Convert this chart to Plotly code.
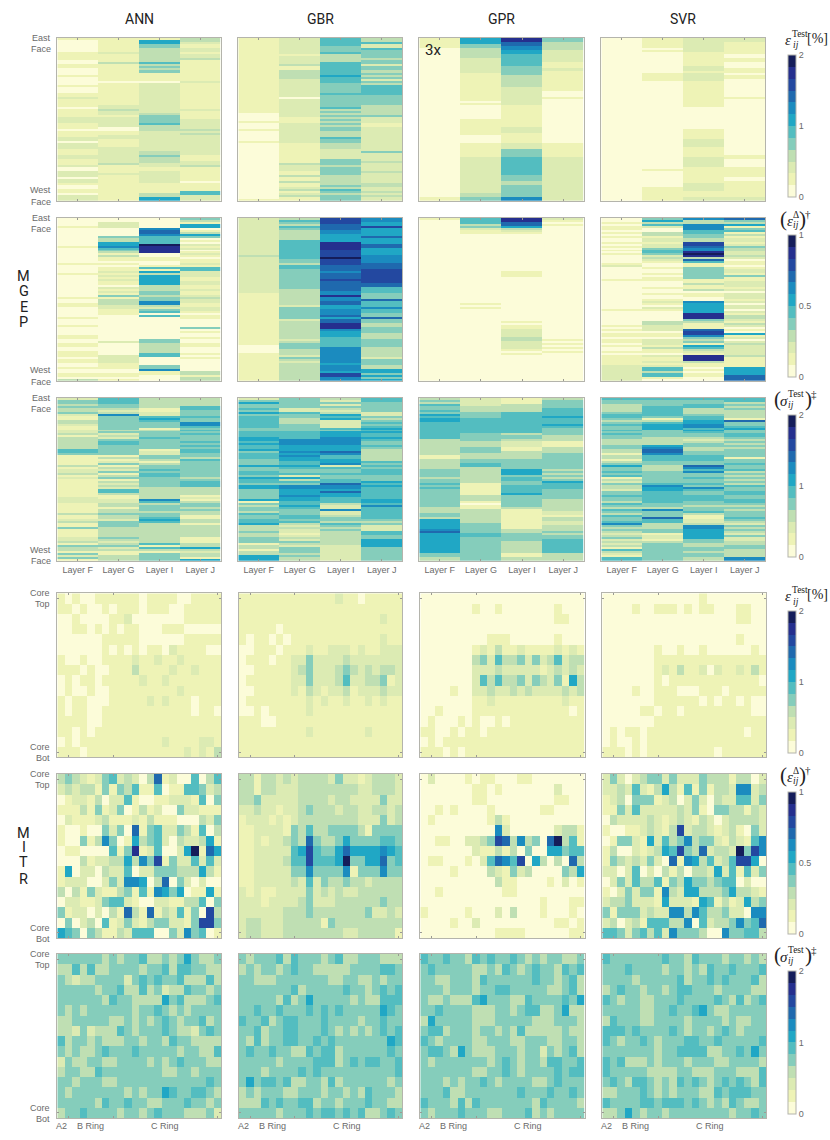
# %%
import plotly.graph_objects as go

# 12 step YlGnBu, levels 0-11 (a = 10, b = 11)
colors = ["#fcfcd9", "#eef3b6", "#dcebb3", "#bfdfb3", "#85cdbb", "#53bdc0",
          "#20a7c5", "#1b8bbf", "#1f69ae", "#2348a0", "#252f8e", "#151d5a"]
models = ["ANN", "GBR", "GPR", "SVR"]
layers = ["Layer F", "Layer G", "Layer I", "Layer J"]
cbar_max = [2, 1, 2, 2, 1, 2]
cbar_ticks = [[0, 1, 2], [0, 0.5, 1], [0, 1, 2], [0, 1, 2], [0, 0.5, 1], [0, 1, 2]]

# MGEP: one run-length string per layer, "level*rows"
mgep_err_ann = [
    "1*1 0*6 1*4 0*2 1*2 0*4 1*1 0*4 1*1 0*3 1*2 2*1 1*4 0*1 1*4 2*3 1*3 0*1 1*3 2*2 0*1 2*3 1*3 2*2 1*3 2*1 0*2 2*3 0*1 2*2 1*1 0*2 1*2 0*1 2*3",
    "1*7 2*1 1*4 3*1 1*2 1*7 0*1 1*11 2*2 3*1 2*2 1*1 2*5 0*2 1*2 2*2 1*4 2*8 3*1 1*4 2*1 1*13",
    "1*1 6*2 4*2 3*7 5*1 3*1 4*1 3*1 4*2 1*1 1*3 0*1 2*15 3*1 4*4 5*1 3*3 2*10 3*2 4*1 3*3 2*2 1*2 2*6 1*5 3*2 6*2",
    "3*2 2*1 1*2 2*2 1*1 2*2 3*1 1*11 2*1 1*13 2*1 1*4 2*5 3*1 2*1 3*1 2*10 1*3 2*2 3*1 1*7 0*1 1*4 5*2 2*3",
]
mgep_err_gbr = [
    "1*38 0*4 1*1 0*3 1*1 0*5 1*1 0*28 1*1",
    "2*8 1*1 2*4 3*1 1*2 3*5 2*9 0*1 2*9 1*3 2*10 1*10 3*1 2*3 1*2 3*1 1*2 3*1 1*2 2*1 3*1 1*1 2*1 3*1 1*2",
    "5*4 4*3 5*1 3*4 5*4 5*3 6*1 5*3 4*5 5*1 4*6 5*1 3*1 4*1 3*1 4*1 3*1 4*1 3*1 4*1 3*1 4*2 3*3 5*1 4*2 3*3 2*5 4*3 3*1 4*4 3*5 4*1 3*1 5*1 4*1 3*1 4*3",
    "3*2 5*1 2*2 5*1 4*4 3*1 4*2 2*1 4*2 3*2 4*1 3*1 4*1 2*1 4*1 3*1 5*5 4*5 3*5 4*1 2*3 1*2 2*12 4*1 2*4 3*1 2*4 3*1 2*5 3*2 2*2 3*1 2*1 3*1 2*2",
]
mgep_err_gpr = [
    "1*5 0*75 1*2",
    "6*3 4*2 3*5 2*8 1*14 0*1 1*1 0*7 1*8 0*4 1*7 2*18 3*2 4*2",
    "a*2 8*2 7*2 6*2 5*6 4*5 3*6 2*9 1*11 2*3 1*5 2*3 4*4 5*9 4*3 3*2 4*6 7*2",
    "4*2 3*4 2*6 1*3 2*2 1*10 0*3 1*1 0*22 1*7 2*22",
]
mgep_err_svr = [
    "0*82",
    "1*5 0*1 1*1 0*11 1*4 0*44 1*1 0*8 1*7",
    "2*7 1*7 2*3 1*1 2*4 1*13 0*11 1*5 2*4 1*5 2*5 1*8 2*4 1*3 2*2",
    "2*2 1*6 0*2 1*2 0*3 1*3 0*1 1*2 0*9 1*1 0*28 1*2 0*4 1*5 0*2 1*8 2*2",
]
mgep_delta_ann = [
    "0*4 1*1 0*9 1*1 0*8 1*1 0*4 1*1 0*11 1*1 0*2 1*2 0*5 1*1 0*3 1*1 0*4 1*2 0*2 1*2 0*2 1*3 0*1 1*2 0*2 1*1 0*2 1*2 0*1 3*1",
    "0*2 2*3 0*4 4*1 3*2 6*2 7*1 5*1 4*1 3*1 1*1 3*1 1*2 0*1 1*1 0*1 1*2 2*1 1*1 2*1 1*1 2*1 1*2 0*1 2*1 1*1 2*1 1*1 4*1 1*1 3*3 2*2 1*3 0*13 2*1 0*6 2*4 1*3 0*2 1*2 0*1 1*1",
    "0*5 7*1 8*2 7*1 5*4 b*1 a*4 0*2 1*2 0*2 1*1 5*1 1*1 6*1 3*1 6*1 6*4 3*3 4*2 3*1 4*2 7*2 3*1 2*1 4*1 5*1 0*1 5*1 0*11 4*2 3*5 5*2 0*4 4*2 7*1 1*2 0*3",
    "4*1 3*1 1*1 6*2 0*1 1*1 3*1 6*1 4*1 0*1 1*1 0*1 2*1 1*1 2*1 0*1 1*1 2*1 1*1 0*1 1*2 2*1 1*1 5*2 2*3 1*2 2*2 1*2 2*1 1*2 2*1 3*1 2*2 1*2 2*2 1*1 0*1 1*2 0*4 4*1 0*1 1*1 0*2 1*1 0*2 1*2 0*3 1*1 0*1 1*1 0*6 3*2 1*1 3*2",
]
mgep_delta_gbr = [
    "2*19 3*1 2*1 2*17 1*26 0*4 1*14",
    "3*1 5*1 4*1 3*1 5*1 4*1 3*5 5*3 5*7 4*2 3*1 5*2 4*1 4*9 3*8 2*1 4*6 2*1 3*6 3*3 2*1 3*1 4*3 3*3 2*1 4*1 3*1 2*1 3*9",
    "9*3 8*3 7*2 6*4 a*4 9*4 b*1 9*3 8*3 7*1 8*3 9*1 8*5 7*2 a*1 7*2 8*2 6*2 7*3 8*1 6*1 8*2 a*3 7*1 6*3 5*5 7*8 6*1 7*3 6*1 9*2 7*2",
    "7*2 6*2 9*1 6*4 8*1 6*3 8*2 6*4 7*4 8*3 9*7 8*2 5*3 4*3 8*1 5*3 7*1 5*2 4*2 8*1 4*2 3*2 4*3 3*3 4*4 3*5 2*1 4*3 3*2 6*2 4*1 6*1 4*1 6*1",
]
mgep_delta_gpr = [
    "1*1 0*81",
    "5*3 3*1 4*1 2*1 1*2 0*35 1*1 0*1 1*1 0*36",
    "a*2 8*2 6*1 3*1 2*1 1*1 0*19 1*3 0*22 1*1 0*1 1*2 2*4 3*2 2*4 1*1 0*1 1*1 0*13",
    "2*1 1*1 0*1 1*1 0*57 1*1 0*1 1*1 0*1 1*1 0*1 1*1 0*14",
]
mgep_delta_svr = [
    "0*2 1*1 0*1 1*2 0*1 1*1 0*1 1*1 0*2 1*1 0*1 1*1 0*1 1*1 0*1 1*1 0*4 1*1 2*1 0*6 1*1 0*14 1*1 0*7 1*1 0*1 1*1 0*1 1*2 0*1 1*2 0*1 1*1 0*2 1*1 0*1 1*3 1*2 2*8",
    "4*1 6*1 3*1 5*1 2*1 0*2 3*2 1*1 2*2 1*1 2*2 4*1 5*2 4*1 2*1 3*1 2*1 1*1 0*2 1*1 0*2 1*1 0*1 1*2 0*3 1*1 0*2 1*1 0*2 1*1 2*1 1*1 0*1 2*1 1*1 0*5 3*2 2*3 0*1 1*2 0*1 2*3 1*1 3*1 1*2 0*1 2*1 1*2 2*1 1*1 2*1 5*2 3*1 5*2 1*1 0*1",
    "7*1 3*2 7*3 5*2 4*2 3*2 9*2 8*1 7*2 a*1 b*1 a*1 3*1 8*1 5*1 1*2 4*6 1*2 3*1 1*2 3*1 0*1 1*2 0*2 7*1 6*5 a*3 4*1 3*1 1*3 8*1 9*2 7*1 4*1 3*1 4*1 1*1 6*1 5*1 3*1 2*1 1*1 a*3 3*1 1*2 0*1 1*1 0*1 1*2 0*2",
    "8*1 4*1 3*1 6*1 1*1 4*1 5*1 1*1 3*1 1*1 2*2 1*1 2*1 4*1 3*2 2*2 3*1 2*1 0*1 1*2 0*1 1*1 2*2 1*1 4*1 1*2 2*3 1*1 2*1 0*1 2*3 1*1 2*1 0*1 2*2 0*1 2*1 1*1 3*2 2*1 1*1 3*1 2*1 0*1 1*1 0*1 6*1 1*1 2*1 0*1 2*1 3*1 2*5 3*1 1*5 6*4 8*3 0*1",
]
mgep_std_ann = [
    "2*1 4*2 3*1 4*1 3*2 4*1 2*1 1*2 3*2 2*1 1*2 2*2 3*1 1*1 3*2 3*4 5*2 4*1 1*5 3*1 1*1 2*2 3*1 1*1 2*1 1*6 1*3 2*3 1*5 3*1 1*2 2*1 3*1 1*2 4*1 1*4 2*2 3*1 1*1 4*1 3*2 1*1 4*1 2*1 4*1 1*1",
    "5*3 4*2 3*1 2*1 3*1 7*1 4*7 3*1 4*1 2*1 3*1 2*1 4*1 5*2 4*5 1*1 3*1 1*1 2*1 4*1 1*1 3*1 2*1 4*1 1*1 3*1 4*1 1*1 3*1 2*1 3*1 2*1 5*2 3*1 1*2 2*2 3*2 1*1 3*2 4*1 3*2 2*1 4*3 3*5 4*1 3*1 2*1 3*1 4*1 2*1 3*1 1*2 3*3",
    "3*5 1*2 2*2 5*1 6*1 5*1 4*3 1*1 3*1 4*3 5*1 4*5 1*1 2*2 4*2 3*1 1*1 3*1 4*2 5*1 4*1 5*2 4*1 4*4 3*6 7*1 5*1 3*1 4*3 3*1 4*2 5*1 6*1 5*1 3*10 5*1 1*1 5*1 3*1 1*1 4*4",
    "3*4 5*2 4*3 5*1 4*2 7*2 5*1 4*1 5*1 4*1 5*1 4*3 5*1 4*1 5*1 4*1 5*2 4*2 3*1 5*1 4*8 3*1 4*1 5*3 3*4 1*1 2*1 1*1 3*1 4*2 3*1 4*1 3*2 1*2 3*2 1*1 3*6 1*3 3*2 6*1 3*1 2*1 3*2 1*1 6*2",
]
mgep_std_gbr = [
    "2*1 4*1 6*1 4*2 5*1 4*1 6*1 4*1 5*6 4*2 5*3 6*2 5*1 6*1 5*2 6*1 4*1 5*3 4*3 6*1 4*2 5*2 4*1 6*1 5*2 4*1 6*2 4*5 6*1 1*1 4*1 3*1 4*2 3*1 5*1 4*2 5*2 6*1 3*3 4*1 3*2 4*3 1*1 3*2 1*1 3*2 6*3",
    "4*5 2*2 5*1 4*2 3*3 4*4 5*4 7*3 6*3 7*1 6*1 7*1 6*2 5*2 6*1 5*1 4*2 5*1 2*1 6*1 3*1 5*1 4*1 7*2 6*3 7*1 6*2 5*2 6*1 5*1 4*3 5*2 4*1 5*1 3*1 2*1 3*1 2*2 1*1 2*1 3*1 2*1 4*1 3*1 2*1 4*3 3*1 4*1 3*2",
    "3*1 2*1 4*1 2*1 4*1 3*1 2*1 3*1 6*1 5*1 6*1 2*4 5*1 4*1 6*3 7*4 6*3 8*1 7*1 5*2 6*2 7*1 2*1 5*1 4*2 5*1 4*2 5*2 8*1 7*2 6*1 8*1 6*2 5*3 3*1 2*2 7*1 2*2 3*1 4*2 3*1 5*1 4*1 3*1 4*1 3*7 2*8",
    "5*2 4*5 2*2 4*1 3*1 4*1 5*1 4*1 5*1 6*1 5*1 6*1 5*2 6*1 5*1 4*2 5*1 4*1 3*6 5*1 4*1 5*1 4*1 5*3 4*3 6*1 5*1 6*1 5*2 5*4 6*2 5*1 7*1 5*1 5*5 4*1 3*1 4*1 2*3 5*2 4*2 6*4 4*7",
]
mgep_std_gpr = [
    "3*1 4*1 3*1 5*1 4*2 5*1 4*1 6*1 5*1 6*2 5*9 3*8 1*2 3*5 4*4 3*1 4*2 5*1 4*1 5*1 4*1 4*8 3*3 4*2 3*1 6*5 7*1 8*1 6*10 4*2 3*2",
    "2*4 3*3 4*3 5*8 4*4 3*3 4*3 3*3 4*2 5*2 3*8 1*6 3*3 1*1 0*1 1*2 3*7 4*5 5*2 4*12",
    "1*3 3*4 5*11 3*1 4*2 3*1 2*3 1*2 3*4 4*5 6*3 4*1 5*2 4*2 5*4 6*1 4*6 3*1 1*10 3*2 4*4 3*6 1*2 3*2",
    "3*1 4*1 4*3 5*4 6*1 5*3 6*1 5*1 4*4 3*3 1*3 3*3 4*3 4*5 3*1 4*1 3*1 4*1 3*1 4*1 6*1 5*3 4*5 3*6 2*2 1*1 3*2 2*2 3*3 4*1 3*1 4*2 5*7 3*4",
]
mgep_std_svr = [
    "5*1 4*2 3*4 4*1 5*2 4*1 3*1 4*1 5*1 4*2 5*1 4*1 5*1 4*2 3*3 4*2 3*2 1*1 3*2 1*1 3*1 4*1 6*1 4*2 5*1 4*1 5*1 1*1 3*1 2*1 4*1 3*2 2*1 4*2 5*1 4*2 3*1 5*1 4*1 3*1 5*1 4*1 3*1 5*1 4*2 5*1 7*1 4*1 3*1 4*1 3*1 2*1 3*1 4*1 2*1 3*1 2*1 3*1 1*1 5*1 3*1 2*1 1*1 5*2",
    "5*1 4*3 5*5 4*1 1*1 3*1 5*1 6*3 4*4 3*4 6*1 7*1 8*2 7*1 5*3 4*2 3*3 4*2 4*4 5*1 7*1 6*2 5*1 5*5 4*2 3*1 7*1 4*3 8*1 5*2 3*3 4*2 1*1 2*2 1*1 3*1 4*3 4*6",
    "5*1 4*2 5*2 3*3 4*1 5*2 6*2 7*2 5*1 6*1 5*1 4*2 3*1 2*1 3*1 4*2 3*2 4*2 5*3 4*2 8*1 7*1 5*1 7*1 4*2 5*1 4*2 5*1 4*1 7*1 5*1 4*2 5*3 4*2 3*1 4*2 5*1 3*1 1*2 2*2 3*1 7*2 6*5 4*2 3*2 4*2 3*1 4*2 3*2",
    "5*2 3*1 4*1 3*1 4*1 3*1 3*3 1*1 8*1 4*2 5*1 6*1 4*2 5*2 4*1 3*1 4*1 3*1 4*1 3*1 4*4 1*1 4*2 5*1 4*2 5*1 3*1 4*1 3*1 4*1 3*1 4*1 3*1 5*1 4*2 5*2 4*2 5*2 4*1 3*1 4*1 3*1 4*3 5*1 4*1 3*1 2*1 4*1 3*1 4*1 3*1 2*1 4*1 2*2 3*2 4*2 3*4 7*2",
]

# MITR: 16 axial rows x 22 assemblies, one string per row
mitr_err_ann = [
    "1 0 1 0 0 1 1 1 1 1 1 0 1 1 1 1 0 0 1 1 1 1",
    "1 1 0 1 0 0 1 0 1 1 1 0 1 1 1 0 0 1 1 1 1 1",
    "0 0 1 0 0 0 0 1 1 2 0 0 0 0 0 0 0 1 1 1 1 1",
    "0 0 1 1 0 1 0 1 0 1 1 0 0 0 1 1 1 0 0 0 0 0",
    "0 0 0 0 0 0 1 1 1 1 1 0 0 0 0 0 0 1 1 1 1 1",
    "0 0 0 0 0 0 1 0 1 0 1 0 1 1 0 2 1 1 1 1 0 0",
    "1 0 0 1 0 0 1 1 1 1 2 1 1 2 1 1 2 1 1 1 1 1",
    "1 1 1 0 1 0 0 1 1 1 3 1 1 1 1 2 1 1 2 1 1 1",
    "0 1 0 1 1 0 1 1 1 1 1 2 1 1 2 1 1 1 1 1 1 1",
    "0 1 0 0 1 0 0 1 1 1 1 1 1 1 1 1 2 1 1 1 1 1",
    "1 0 1 1 0 0 0 1 1 1 1 1 2 1 2 1 1 1 0 1 1 1",
    "1 0 1 1 0 0 1 1 1 1 1 1 1 1 1 1 1 1 0 1 1 0",
    "1 1 1 1 0 0 1 1 1 1 1 1 1 1 1 1 1 1 1 1 1 1",
    "1 1 0 1 0 1 1 1 1 1 1 1 1 1 1 1 1 1 1 1 1 1",
    "0 1 0 1 1 1 1 1 1 1 1 1 1 1 2 1 1 1 1 2 2 1",
    "1 1 1 0 1 1 1 1 1 1 1 1 1 1 1 1 1 2 1 2 1 3",
]
mitr_err_gbr = [
    "1 1 1 1 1 1 1 1 1 1 1 1 1 2 1 1 0 1 1 1 1 1",
    "1 1 1 1 1 1 1 1 1 1 1 1 1 1 1 1 1 1 1 1 1 1",
    "1 1 1 1 1 1 1 1 1 1 1 1 1 1 1 1 1 1 1 2 1 1",
    "1 1 1 1 1 0 1 1 1 1 1 1 1 1 1 1 1 1 1 1 1 1",
    "1 0 1 1 0 1 0 1 1 1 1 1 1 1 1 1 1 1 1 2 1 1",
    "0 0 1 1 1 0 1 1 1 2 1 1 2 2 2 1 2 1 1 2 2 2",
    "0 1 1 1 0 1 1 2 2 4 2 2 2 2 3 2 2 2 2 2 2 2",
    "0 0 1 1 1 1 1 2 3 4 2 2 2 3 4 3 2 3 2 3 3 2",
    "0 1 1 1 1 1 1 2 2 4 2 2 2 3 5 2 2 3 3 4 1 2",
    "0 0 1 1 1 1 1 2 1 3 2 1 2 2 3 1 2 2 2 3 2 2",
    "0 1 1 1 1 1 1 1 1 2 1 2 1 1 2 1 1 2 1 2 1 1",
    "0 0 1 0 1 1 1 1 1 2 1 1 1 1 1 1 1 1 1 1 1 1",
    "1 1 1 0 0 1 1 1 1 1 1 1 1 1 1 1 1 1 1 1 1 1",
    "1 1 1 1 1 1 1 1 1 2 1 1 1 1 1 1 1 2 1 1 1 1",
    "1 1 1 1 1 1 1 1 1 1 1 1 1 1 1 1 1 1 1 1 1 1",
    "1 1 1 1 1 1 1 1 1 1 1 1 1 1 1 1 1 1 1 1 1 1",
]
mitr_err_gpr = [
    "0 0 0 0 0 0 0 0 0 0 0 0 0 0 0 0 0 0 0 0 0 0",
    "0 0 0 0 0 0 0 1 0 0 1 0 0 0 0 0 0 0 1 0 0 0",
    "0 0 0 0 0 0 0 0 0 0 0 0 0 0 0 0 0 0 1 1 0 0",
    "0 0 0 0 0 0 0 0 0 0 0 0 0 0 0 0 0 0 0 0 0 0",
    "0 0 0 0 0 0 0 0 0 1 1 1 0 0 0 0 0 0 1 0 0 0",
    "0 0 0 0 0 0 0 1 2 1 3 1 1 2 1 1 1 1 2 1 2 1",
    "0 0 0 0 0 0 0 3 4 2 5 3 3 4 2 4 2 3 5 2 3 3",
    "0 0 0 0 0 0 0 2 2 2 3 2 2 2 2 2 1 2 3 2 3 2",
    "0 0 0 0 0 0 0 2 5 3 5 3 3 4 2 4 3 2 4 1 6 3",
    "0 0 0 0 1 0 0 2 2 3 2 2 3 2 3 2 2 2 2 3 2 3",
    "0 0 0 0 0 0 0 1 1 2 1 1 1 1 1 1 1 1 1 2 1 1",
    "0 0 1 0 0 0 0 1 1 1 1 1 1 1 1 1 1 1 1 1 0 1",
    "0 1 0 0 0 1 0 1 0 0 1 0 1 1 1 1 1 1 1 1 1 1",
    "1 1 0 0 1 0 1 1 0 1 1 1 1 1 1 1 1 1 1 1 1 1",
    "0 1 0 1 1 1 1 1 1 1 1 1 1 1 1 1 1 1 1 1 1 1",
    "1 1 1 0 1 0 1 1 1 1 1 1 1 1 1 1 1 1 1 1 1 1",
]
mitr_err_svr = [
    "0 0 0 0 0 0 0 0 0 0 0 0 0 1 0 0 0 0 0 0 0 0",
    "0 0 0 0 1 0 0 1 1 1 0 1 0 1 1 0 0 0 1 1 0 0",
    "0 0 0 0 0 0 0 0 0 0 0 0 0 0 0 0 0 0 1 1 0 0",
    "0 0 0 0 0 0 0 0 0 0 0 0 0 0 0 0 0 0 0 0 0 0",
    "0 0 0 0 0 0 0 0 0 0 0 0 0 0 0 0 0 0 1 0 0 0",
    "0 0 0 0 0 0 0 1 0 0 1 0 0 1 0 0 0 0 0 0 1 0",
    "0 0 0 0 0 0 0 1 1 1 1 1 1 1 1 1 1 1 1 1 1 1",
    "0 0 0 0 0 0 0 1 2 1 3 1 1 2 0 2 1 1 2 1 3 1",
    "0 0 0 0 0 0 0 1 0 1 1 1 1 1 1 1 1 1 1 1 1 0",
    "0 0 0 0 1 0 0 1 1 1 0 0 0 1 1 1 0 1 1 1 1 1",
    "0 0 0 0 0 0 0 1 1 1 1 1 1 0 1 0 1 1 0 1 0 0",
    "0 0 0 0 0 1 1 0 1 1 0 1 1 1 1 1 1 1 1 1 0 0",
    "0 0 0 0 0 0 0 1 1 1 1 1 1 1 1 1 1 1 1 1 1 1",
    "0 1 0 1 1 0 1 1 1 1 1 1 1 1 1 1 1 1 1 0 1 1",
    "0 1 0 0 1 0 1 1 1 1 1 1 1 1 1 1 1 1 1 1 1 1",
    "1 1 1 0 1 0 1 1 1 1 1 1 1 1 1 0 1 1 1 1 1 1",
]
mitr_delta_ann = [
    "3 4 3 2 1 2 4 5 2 3 2 0 3 8 1 2 0 0 5 0 3 5",
    "2 3 2 3 3 1 4 1 4 3 5 1 1 5 0 1 1 5 5 4 2 3",
    "0 1 2 2 1 3 0 2 2 5 1 0 0 1 1 2 2 2 1 5 0 4",
    "1 1 1 3 1 4 1 2 4 0 1 3 1 2 0 0 4 2 2 1 1 1",
    "0 2 1 1 1 2 3 1 1 1 2 1 3 1 1 1 0 0 0 3 2 4",
    "1 0 0 1 0 0 4 2 4 0 8 1 4 5 2 2 4 3 1 5 0 3",
    "1 0 0 4 1 3 7 4 0 1 6 3 4 5 2 0 3 2 2 3 6 1",
    "0 1 1 0 0 0 0 5 1 4 a 1 2 5 0 0 2 6 b 1 8 6",
    "0 0 0 3 1 2 2 3 3 6 3 7 4 9 1 4 2 2 5 2 5 2",
    "1 6 0 2 2 0 3 2 2 5 0 2 2 4 4 4 3 3 3 6 3 1",
    "1 2 2 2 0 0 2 4 2 7 7 6 0 3 8 0 4 2 0 2 0 0",
    "3 0 3 1 4 2 1 1 3 4 1 5 1 7 6 4 6 0 1 1 6 1",
    "0 2 2 1 1 2 4 5 5 2 1 0 0 2 2 1 1 3 3 5 0 4",
    "4 1 2 2 0 2 0 3 1 8 3 1 8 1 3 2 5 1 4 0 9 3",
    "0 4 0 2 3 0 5 1 2 4 2 1 3 4 4 2 2 1 4 9 9 4",
    "6 5 4 0 4 3 1 1 3 2 5 5 5 0 0 4 2 7 4 5 0 1",
]
mitr_delta_gbr = [
    "3 3 1 3 3 2 3 2 3 3 3 3 2 4 2 2 1 2 3 3 3 2",
    "3 3 1 3 3 2 2 2 3 3 3 3 3 3 3 3 2 2 3 3 3 2",
    "3 3 4 2 2 2 2 2 3 3 3 3 2 3 3 2 2 2 2 4 2 2",
    "2 2 3 2 2 1 2 2 3 4 3 3 3 2 3 3 2 2 3 3 2 3",
    "1 2 2 2 1 2 1 2 3 3 3 3 3 3 3 3 2 2 2 4 2 3",
    "1 1 2 2 2 2 1 4 3 5 3 3 4 4 4 4 3 1 4 4 4 4",
    "1 1 2 1 2 2 3 4 3 8 4 3 3 4 6 4 4 4 4 5 5 4",
    "1 1 2 2 2 2 2 5 6 9 5 4 4 6 8 6 6 6 6 7 6 5",
    "1 1 2 2 2 2 3 5 5 9 5 5 5 6 b 4 4 6 6 8 4 5",
    "1 1 2 2 2 2 2 4 4 7 4 4 4 4 7 1 4 4 4 7 4 4",
    "1 1 2 2 2 2 2 3 2 5 2 4 3 3 4 3 3 2 3 3 3 3",
    "2 1 2 1 1 2 2 2 2 4 2 3 2 3 2 2 3 3 3 3 3 3",
    "2 2 2 1 2 2 2 2 3 4 2 2 2 3 3 3 3 3 3 4 3 3",
    "2 2 2 2 2 2 3 3 3 4 3 3 3 3 3 3 3 4 2 2 3 2",
    "2 3 3 2 2 2 3 3 3 3 3 1 4 3 3 3 3 3 3 3 3 3",
    "2 3 3 2 2 2 3 3 3 3 3 3 3 3 2 2 3 3 3 3 3 1",
]
mitr_delta_gpr = [
    "0 2 0 0 0 0 1 0 1 1 0 0 0 1 1 0 0 0 0 0 0 0",
    "0 0 0 0 0 0 0 1 1 0 1 0 0 0 0 0 0 0 2 0 0 0",
    "0 0 0 0 0 0 0 1 1 0 0 0 0 0 0 0 0 0 1 1 0 0",
    "0 0 1 0 1 0 0 0 0 1 0 0 0 0 0 0 1 1 0 0 0 0",
    "0 1 0 0 0 0 0 0 0 1 3 1 0 0 0 0 0 0 0 0 0 0",
    "0 0 0 0 0 0 0 0 0 0 7 2 0 0 0 0 0 0 2 3 3 1",
    "0 0 1 1 0 0 2 2 3 4 9 8 3 7 3 4 0 8 b 3 5 1",
    "0 0 0 0 0 0 0 2 1 1 3 1 3 0 4 0 0 6 6 4 5 5",
    "0 1 1 0 0 0 1 0 2 5 8 7 5 9 0 6 3 0 3 0 8 3",
    "0 0 0 0 1 0 0 0 0 3 2 1 4 2 3 0 0 0 0 4 3 6",
    "0 0 0 0 0 0 0 0 0 0 3 1 1 0 0 0 0 1 0 2 0 1",
    "0 0 1 0 0 0 0 0 0 0 0 1 1 0 0 0 0 0 0 0 0 0",
    "0 0 0 0 0 0 0 0 0 0 0 0 0 0 0 0 1 0 0 0 1 1",
    "1 0 0 0 0 0 1 0 0 0 2 0 3 0 0 0 1 0 0 0 1 0",
    "0 0 0 0 1 0 0 2 0 0 0 0 0 0 0 0 0 0 1 1 0 1",
    "0 0 0 0 0 0 0 0 0 0 1 1 1 1 0 0 0 0 0 0 1 1",
]
mitr_delta_svr = [
    "2 4 2 0 2 3 4 4 2 4 2 2 2 4 3 3 3 1 3 3 0 2",
    "2 2 3 2 5 2 1 3 6 3 1 5 1 4 1 3 3 2 7 7 2 3",
    "1 2 3 0 4 4 4 1 2 3 0 2 4 2 0 3 2 2 5 5 2 4",
    "1 1 4 2 5 2 2 2 2 2 3 2 4 1 0 4 4 3 3 1 3 2",
    "0 3 2 2 2 2 3 2 1 2 3 2 1 3 2 0 2 3 3 3 3 2",
    "1 0 0 1 1 2 3 2 1 3 9 2 3 3 2 1 2 3 1 0 4 2",
    "0 1 4 4 2 1 6 2 5 3 4 7 3 4 4 2 1 3 2 1 5 7",
    "1 3 0 0 2 1 2 3 6 5 9 4 3 8 2 3 3 2 b 4 9 7",
    "1 4 3 2 3 2 4 2 0 8 1 7 6 3 5 2 3 5 9 9 6 0",
    "2 2 0 2 5 0 2 0 3 1 3 0 3 3 2 6 2 5 1 5 2 4",
    "0 2 4 2 5 3 3 5 1 4 3 6 4 4 3 4 5 5 0 2 0 0",
    "1 0 2 4 2 4 4 1 7 3 2 6 6 3 3 3 4 6 3 3 2 1",
    "2 3 3 4 2 2 2 1 6 2 2 2 1 6 5 1 3 1 2 6 3 4",
    "4 1 4 4 4 2 3 2 2 7 7 3 7 5 3 3 4 2 2 0 7 7",
    "2 3 0 2 3 1 5 5 5 3 3 7 0 5 2 3 3 4 7 4 5 8",
    "5 5 4 2 4 5 3 5 2 7 4 4 4 3 0 0 7 4 4 5 5 3",
]
mitr_std_ann = [
    "4 4 4 4 4 4 3 4 3 4 4 5 3 3 4 3 4 6 4 3 3 4",
    "3 3 5 3 5 3 3 4 4 4 4 3 4 4 5 3 5 5 4 4 3 3",
    "4 3 2 3 3 4 4 4 4 2 4 5 4 5 4 4 5 3 3 3 5 3",
    "4 4 4 4 4 3 4 4 5 3 3 5 3 4 2 3 3 5 4 4 3 4",
    "4 4 4 4 4 4 3 5 4 4 3 3 3 3 6 4 5 3 3 3 4 5",
    "4 3 4 3 4 4 4 4 4 4 3 4 4 5 4 3 4 3 4 4 4 4",
    "3 3 4 4 4 4 4 3 3 4 3 4 3 4 5 4 3 4 4 5 3 4",
    "3 3 2 4 2 3 3 3 5 4 3 4 4 4 5 4 3 3 2 4 5 4",
    "5 3 4 4 3 4 3 3 3 4 4 3 4 4 3 5 4 4 3 3 3 3",
    "4 3 4 3 3 4 5 4 4 4 5 4 4 4 4 4 3 4 4 3 3 5",
    "2 4 3 3 4 4 3 3 4 4 4 4 3 4 3 4 5 4 4 4 3 3",
    "3 4 4 3 3 5 4 4 4 4 4 4 4 4 3 3 4 4 3 4 4 4",
    "4 4 3 4 4 4 3 3 4 4 4 4 4 4 4 4 4 4 4 4 5 4",
    "4 3 4 4 4 4 4 4 4 3 4 3 4 4 6 5 4 4 5 5 4 3",
    "4 4 4 4 4 3 5 4 4 5 4 4 3 3 4 4 4 5 4 4 3 4",
    "3 4 4 5 4 4 4 4 3 4 4 3 4 5 4 4 4 3 3 3 4 2",
]
mitr_std_gbr = [
    "4 3 4 4 4 5 3 5 4 4 4 3 4 5 3 3 4 4 4 3 3 3",
    "3 4 3 4 4 3 4 5 4 4 3 3 3 3 3 4 4 4 4 5 5 4",
    "4 4 3 3 3 4 4 4 4 4 4 4 3 3 4 4 3 3 4 3 4 4",
    "4 4 4 4 4 4 4 5 3 4 4 4 4 4 5 4 4 3 4 5 4 5",
    "4 4 4 4 4 3 5 3 4 6 4 4 4 4 4 3 4 3 3 5 5 5",
    "4 4 5 4 4 5 4 4 4 5 4 5 4 5 4 4 4 4 4 6 5 4",
    "5 4 4 5 3 4 5 5 4 4 4 5 4 4 4 4 3 4 4 5 4 4",
    "4 4 5 3 4 4 5 5 4 4 4 5 4 3 4 3 4 3 4 5 4 5",
    "4 3 5 3 4 4 5 5 4 4 5 4 5 4 4 4 4 4 4 4 6 5",
    "4 5 4 4 5 4 4 3 3 5 4 5 5 3 4 4 4 4 4 4 5 4",
    "4 4 4 4 4 3 4 4 4 4 5 5 5 3 4 5 4 5 5 4 4 5",
    "4 4 4 3 4 4 4 4 5 4 5 4 4 4 4 4 4 4 4 4 4 5",
    "4 6 4 5 5 4 5 3 3 4 4 3 5 3 4 4 4 4 4 4 3 4",
    "3 4 3 4 4 4 3 3 4 4 4 3 4 4 3 4 3 5 4 4 4 3",
    "3 3 3 5 4 5 4 4 5 5 3 4 4 3 4 4 4 5 4 4 3 3",
    "4 4 4 4 4 3 4 4 4 5 4 5 5 4 5 4 5 3 3 4 5 4",
]
mitr_std_gpr = [
    "5 4 4 5 4 4 3 5 4 5 4 4 5 4 3 4 3 4 4 3 3 4",
    "4 5 4 4 4 4 4 3 3 4 3 5 4 3 4 5 4 4 3 5 4 5",
    "4 4 3 3 4 4 4 3 5 4 4 4 4 4 4 5 4 4 3 4 5 3",
    "4 4 4 3 4 4 4 3 4 4 5 5 4 4 4 4 4 3 3 4 5 3",
    "4 3 3 4 3 3 3 5 6 4 4 4 3 3 5 4 4 4 4 5 4 6",
    "4 4 5 4 4 4 4 3 3 3 4 4 3 4 5 5 3 3 4 6 3 3",
    "3 6 4 4 4 4 4 3 3 3 4 4 4 4 4 3 3 3 4 4 4 3",
    "4 5 5 3 4 4 4 3 4 4 3 4 3 5 3 3 3 3 3 4 3 3",
    "5 4 3 4 4 4 4 3 3 4 4 4 3 3 4 4 4 3 3 4 4 3",
    "4 5 5 4 3 6 4 3 3 3 4 4 4 3 4 4 2 4 3 4 5 3",
    "4 3 4 4 4 4 4 4 4 3 4 5 4 3 4 4 3 5 5 4 4 5",
    "4 4 4 4 4 4 4 3 3 4 4 5 4 3 4 4 4 4 5 4 5 5",
    "4 4 4 3 4 3 4 4 5 4 3 4 4 4 4 3 3 4 5 4 4 4",
    "4 4 4 5 3 3 4 4 4 4 4 4 4 5 4 4 4 5 4 4 5 4",
    "5 4 4 4 3 5 3 5 4 4 4 4 4 4 4 3 5 4 4 4 4 3",
    "4 3 4 4 4 5 4 4 4 3 3 4 4 4 5 3 4 3 4 4 4 4",
]
mitr_std_svr = [
    "5 4 4 4 4 4 4 4 5 4 4 3 5 4 4 4 3 4 4 3 4 3",
    "4 4 4 5 4 4 4 4 3 4 4 3 4 3 5 4 4 5 4 4 4 5",
    "4 4 4 4 3 4 4 4 4 4 5 3 4 4 5 4 5 4 4 4 5 3",
    "3 4 5 4 4 3 4 4 3 4 5 5 4 4 4 3 4 4 4 4 3 3",
    "5 4 3 4 4 3 3 4 4 4 5 4 4 4 4 5 4 3 5 3 4 5",
    "4 4 4 4 4 3 3 4 4 5 4 4 5 6 4 3 3 4 4 4 4 4",
    "3 5 4 4 4 3 3 4 4 4 4 3 4 4 4 4 3 4 3 3 4 4",
    "5 5 5 4 5 4 4 4 4 5 4 3 4 4 3 4 5 4 3 4 4 4",
    "5 4 3 4 4 5 4 3 4 4 4 5 5 4 4 5 4 4 4 4 4 5",
    "4 4 4 4 4 4 4 3 4 4 5 5 5 5 3 3 4 4 5 4 6 4",
    "5 4 5 3 3 3 4 3 4 4 4 3 4 4 4 3 3 4 4 4 4 3",
    "5 4 4 4 4 4 3 3 3 3 4 4 3 3 3 4 4 4 3 3 3 5",
    "4 5 4 3 5 5 4 3 4 3 5 4 5 4 3 4 5 4 5 4 3 5",
    "3 3 4 4 4 5 4 3 4 3 4 4 4 3 3 5 4 5 5 5 4 4",
    "5 4 4 4 4 5 5 4 5 5 5 4 5 4 3 4 3 5 4 3 3 4",
    "3 3 4 6 4 3 4 4 3 4 4 4 4 4 4 4 4 3 4 4 5 4",
]

panels = [
    [mgep_err_ann, mgep_err_gbr, mgep_err_gpr, mgep_err_svr],
    [mgep_delta_ann, mgep_delta_gbr, mgep_delta_gpr, mgep_delta_svr],
    [mgep_std_ann, mgep_std_gbr, mgep_std_gpr, mgep_std_svr],
    [mitr_err_ann, mitr_err_gbr, mitr_err_gpr, mitr_err_svr],
    [mitr_delta_ann, mitr_delta_gbr, mitr_delta_gpr, mitr_delta_svr],
    [mitr_std_ann, mitr_std_gbr, mitr_std_gpr, mitr_std_svr],
]

W, H = 830, 1140
GRAY = "#b4b4ac"
LABEL = "#6a6a6a"
DARK = "#222222"
SANS = "Liberation Sans"
SERIF = "Liberation Serif"
mgep_x = [(57.3, 220.7), (238.3, 402.3), (419.3, 583.7), (601.3, 765.3)]
mitr_x = [(57.3, 221.3), (239, 402.3), (420.3, 584.7), (602.3, 766)]
row_y = [(37.7, 201), (217.7, 381), (397.7, 561), (593.3, 757.3), (774, 938), (954, 1118)]
cbar_y = [(55, 196.7), (235, 377.3), (415, 557.3), (611, 753.3), (791.3, 933.7), (971.3, 1114.3)]


def decode_runs(text, rows=82):
    levels = []
    for tok in text.split():
        lev, n = tok.split("*")
        levels += [int(lev, 16)] * int(n)
    levels = levels[:rows]
    return levels + levels[-1:] * (rows - len(levels))


def to_matrix(panel):
    if "*" in panel[0]:
        cols = [decode_runs(c) for c in panel]
        return [list(r) for r in zip(*cols)]
    return [[int(c, 16) for c in row.split()] for row in panel]


fig = go.Figure()
layout = {}
scale = [[v, c] for i, c in enumerate(colors) for v in (i / 12, (i + 1) / 12)]

for r, row in enumerate(panels):
    is_mgep = r < 3
    layout[f"coloraxis{r + 1}"] = dict(
        colorscale=scale, cmin=0, cmax=cbar_max[r],
        colorbar=dict(
            x=787.7 / W, xanchor="left", xref="paper", y=1 - cbar_y[r][1] / H, yanchor="bottom", yref="paper",
            len=(cbar_y[r][1] - cbar_y[r][0]) / H, lenmode="fraction", thickness=8.3, thicknessmode="pixels",
            outlinecolor=GRAY, outlinewidth=1, ticks="", ticklabelposition="outside",
            tickvals=cbar_ticks[r], ticktext=[f"{t:g}" for t in cbar_ticks[r]],
            tickfont=dict(family=SANS, size=9, color=LABEL), xpad=0, ypad=0, borderwidth=0,
        ),
    )
    for c, panel in enumerate(row):
        idx = r * 4 + c + 1
        levels = to_matrix(panel)
        z = [[(v + 0.5) / 12 * cbar_max[r] for v in line] for line in levels]
        fig.add_trace(go.Heatmap(z=z, coloraxis=f"coloraxis{r + 1}", xaxis=f"x{idx}", yaxis=f"y{idx}",
                                 hoverinfo="skip", xgap=0, ygap=0))
        x0, x1 = (mgep_x if is_mgep else mitr_x)[c]
        y0, y1 = row_y[r]
        if is_mgep:
            xtv, xtt = [0, 1, 2, 3], (layers if r == 2 else [""] * 4)
            ytv = []
        else:
            xtv, xtt = [1, 7, 21], ["", "", ""]
            ytv = [0, 15]
        layout[f"xaxis{idx}"] = dict(
            domain=[x0 / W, x1 / W], anchor=f"y{idx}", showgrid=False, zeroline=False,
            showline=True, linecolor=GRAY, linewidth=1, mirror="ticks",
            ticks="inside", ticklen=2, tickwidth=1, tickcolor="#9a9a94",
            tickmode="array", tickvals=xtv, ticktext=xtt, ticklabelstandoff=0,
            tickfont=dict(family=SANS, size=9, color=LABEL),
        )
        layout[f"yaxis{idx}"] = dict(
            domain=[1 - y1 / H, 1 - y0 / H], anchor=f"x{idx}", autorange="reversed", showgrid=False,
            zeroline=False, showline=True, linecolor=GRAY, linewidth=1, mirror="ticks",
            ticks="inside", ticklen=2, tickwidth=1, tickcolor="#9a9a94",
            tickmode="array", tickvals=ytv, showticklabels=False,
        )

notes = []


def note(x, y, text, size=9, color=LABEL, family=SANS, anchor="center"):
    notes.append(dict(xref="paper", yref="paper", x=x / W, y=1 - y / H, text=text, showarrow=False,
                      xanchor=anchor, yanchor="middle", align=anchor, borderpad=0,
                      font=dict(family=family, size=size, color=color)))


for (x0, x1), name in zip(mgep_x, models):
    note((x0 + x1) / 2, 19, name, size=14, color=DARK, family="Roboto")
note(433, 50, "3x", size=15, color=DARK, family="Roboto")

for y, ch in zip([276, 291, 307, 322], "MGEP"):
    note(23.5, y, ch, size=14.5, color=DARK, family="Roboto")
for y, ch in zip([833, 847, 862, 879], "MITR"):
    note(23.5, y, ch, size=14.5, color=DARK, family="Roboto")

for (top, bottom) in row_y[:3]:
    note(52, top, "East", anchor="right")
    note(52, top + 11.5, "Face", anchor="right")
    note(52, bottom - 11, "West", anchor="right")
    note(52, bottom + 0.5, "Face", anchor="right")
for (top, bottom) in row_y[3:]:
    note(51, top - 0.5, "Core", anchor="right")
    note(51, top + 11, "Top", anchor="right")
    note(51, bottom - 10.5, "Core", anchor="right")
    note(51, bottom + 0.5, "Bot", anchor="right")

for (x0, x1) in mitr_x:
    note(x0 + 4, 1126, "A2")
    note(x0 + 33.5, 1126, "B Ring")
    note(x0 + 108, 1126, "C Ring")


def err_label(dy):
    note(788, 40 + dy, "<i>ε</i>", size=15, color=DARK, family=SERIF)
    note(800, 34 + dy, "Test", size=9.5, color=DARK, family=SERIF)
    note(796, 45.5 + dy, "<i>ij</i>", size=9.5, color=DARK, family=SERIF)
    note(817.5, 38.5 + dy, "[%]", size=14, color=DARK, family=SERIF)


def delta_label(dy):
    note(783, 219 + dy, "(", size=21, color=DARK, family=SERIF)
    note(789.5, 221 + dy, "<i>ε</i>", size=15, color=DARK, family=SERIF)
    note(796, 215 + dy, "Δ", size=9.5, color=DARK, family=SERIF)
    note(796, 225 + dy, "<i>ij</i>", size=9.5, color=DARK, family=SERIF)
    note(802, 219 + dy, ")", size=21, color=DARK, family=SERIF)
    note(807.5, 214 + dy, "†", size=11, color=DARK, family=SERIF)


def std_label(dy):
    note(777.5, 399 + dy, "(", size=21, color=DARK, family=SERIF)
    note(784, 401 + dy, "<i>σ</i>", size=15, color=DARK, family=SERIF)
    note(796, 394 + dy, "Test", size=9.5, color=DARK, family=SERIF)
    note(791, 405 + dy, "<i>ij</i>", size=9.5, color=DARK, family=SERIF)
    note(808, 399 + dy, ")", size=21, color=DARK, family=SERIF)
    note(814, 394 + dy, "‡", size=11, color=DARK, family=SERIF)


for dy in (0, 556):
    err_label(dy)
    delta_label(dy)
    std_label(dy)

fig.update_layout(width=W, height=H, margin=dict(l=0, r=0, t=0, b=0), showlegend=False,
                  paper_bgcolor="white", plot_bgcolor="white", annotations=notes, **layout)
fig.write_html("out.html", config={"displayModeBar": False}, post_script="document.body.style.margin='0';")
